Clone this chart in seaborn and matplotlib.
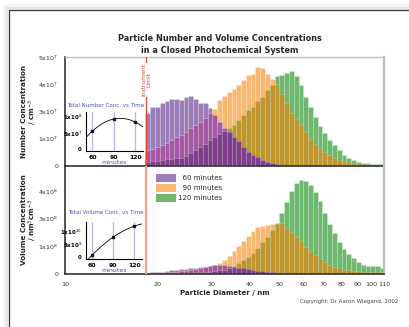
import numpy as np
import matplotlib
matplotlib.use("Agg")
import matplotlib.pyplot as plt
from matplotlib.patches import Patch
from matplotlib.lines import Line2D
from matplotlib.ticker import FixedLocator, FixedFormatter, NullFormatter
import seaborn as sns

# ---------------------------------------------------------------------------
# Size channels: 64 channels per decade, starting at 18.3 nm
first_edge_nm = 18.3
channels_per_decade = 64
n_channels = 50
log_edges = np.log10(first_edge_nm) + np.arange(n_channels + 1) / channels_per_decade
diameter_nm = 10 ** ((log_edges[:-1] + log_edges[1:]) / 2)

times = ["60 minutes", "90 minutes", "120 minutes"]

# Number concentration per channel (axis tick units, x10^7 cm^-3)
number_60 = [1.94, 2.16, 2.18, 2.30, 2.40, 2.45, 2.45, 2.43, 2.52, 2.57, 2.45, 2.33, 2.30, 2.12,
             1.88, 1.63, 1.39, 1.26, 1.05, 0.90, 0.69, 0.53, 0.41, 0.32, 0.22, 0.16, 0.10, 0.07,
             0.05, 0.04, 0.035, 0.03, 0.027, 0.024, 0.021, 0.019, 0.017, 0.015, 0.013, 0.012,
             0.011, 0.01, 0.009, 0.008, 0.007, 0.006, 0.005, 0.005, 0.004, 0.004]
number_90 = [0.59, 0.61, 0.69, 0.77, 0.83, 0.96, 1.05, 1.14, 1.26, 1.39, 1.51, 1.63, 1.75, 1.94,
             2.08, 2.43, 2.57, 2.73, 2.82, 2.98, 3.16, 3.35, 3.38, 3.65, 3.59, 3.38, 3.20, 3.00,
             2.65, 2.30, 1.95, 1.72, 1.52, 1.25, 1.00, 0.80, 0.64, 0.50, 0.40, 0.30, 0.23,
             0.18, 0.14, 0.11, 0.09, 0.07, 0.06, 0.05, 0.04, 0.04]
number_120 = [0.16, 0.18, 0.20, 0.22, 0.24, 0.26, 0.28, 0.31, 0.36, 0.46, 0.57, 0.68, 0.81, 0.94,
              1.05, 1.18, 1.30, 1.39, 1.51, 1.69, 1.88, 2.06, 2.18, 2.37, 2.55, 2.79, 2.98,
              3.31, 3.35, 3.41, 3.47, 3.30, 2.98, 2.55, 2.18, 1.81, 1.45, 1.20, 0.96, 0.77,
              0.59, 0.40, 0.28, 0.22, 0.16, 0.12, 0.10, 0.09, 0.08, 0.06]

# Volume concentration per channel (axis tick units, x10^8 nm^3 cm^-3)
volume_60 = [0.05, 0.06, 0.08, 0.09, 0.11, 0.13, 0.15, 0.17, 0.19, 0.21, 0.23, 0.25, 0.27, 0.29, 0.31,
             0.32, 0.31, 0.29, 0.26, 0.23, 0.20, 0.17, 0.14, 0.12, 0.10, 0.08, 0.06, 0.05, 0.04, 0.03,
             0.025, 0.02, 0.02, 0.018, 0.016, 0.015, 0.014, 0.013, 0.012, 0.011, 0.01, 0.01, 0.009,
             0.009, 0.008, 0.008, 0.007, 0.007, 0.006, 0.006]
volume_90 = [0.02, 0.03, 0.04, 0.05, 0.06, 0.07, 0.08, 0.10, 0.12, 0.14, 0.17, 0.20, 0.24, 0.28, 0.33,
             0.40, 0.50, 0.66, 0.83, 1.00, 1.20, 1.38, 1.56, 1.70, 1.75, 1.78, 1.80, 1.82, 1.84,
             1.65, 1.52, 1.32, 1.18, 0.97, 0.82, 0.67, 0.53, 0.42, 0.33, 0.26, 0.20, 0.16, 0.13,
             0.11, 0.10, 0.09, 0.08, 0.08, 0.07, 0.07]
volume_120 = [0.01, 0.01, 0.01, 0.02, 0.02, 0.02, 0.03, 0.03, 0.04, 0.05, 0.06, 0.07, 0.08, 0.09, 0.11,
              0.13, 0.16, 0.20, 0.30, 0.40, 0.50, 0.62, 0.76, 0.95, 1.15, 1.35, 1.58, 1.85,
              2.20, 2.60, 3.00, 3.30, 3.40, 3.36, 3.20, 2.95, 2.62, 2.20, 1.82,
              1.48, 1.17, 0.90, 0.72, 0.56, 0.45, 0.33, 0.28, 0.30, 0.30, 0.22]

# Totals for the inset time series
sample_minutes = [60, 90, 120]
total_number = [0.55e8, 0.91e8, 0.82e8]
total_volume = [0.08e10, 0.77e10, 1.19e10]

# Axis ticks and their labels
number_ticks = [0, 1, 2, 3, 4]
number_tick_labels = ["0", "1x10$^7$", "3x10$^7$", "4x10$^7$", "5x10$^7$"]
volume_ticks = [0, 1, 2, 3]
volume_tick_labels = ["0", "1x10$^8$", "3x10$^8$", "4x10$^8$"]
diameter_major = [10, 20, 30, 40, 50, 60, 70, 80, 90, 100, 110]
diameter_minor = [15, 25, 35, 45, 55, 65, 75, 85, 95, 105]
instrument_limit_nm = 18.4

# ---------------------------------------------------------------------------
sns.set_style("white")
plt.rcParams["font.family"] = ["DejaVu Sans"]

# Fill colours: each series alone, and where the series overlap
c_60 = "#9b7db9"
c_90 = "#f9b872"
c_120 = "#6fb86f"
c_60_90 = "#a35aa6"
c_90_120 = "#bf962e"
c_all = "#7f3f8c"
dark = "#333333"
axis_grey = "#bdbdbd"

W, H = 409, 327
fig = plt.figure(figsize=(W / 100, H / 100), dpi=100)


def fig_rect(left, top, right, bottom):
    return [left / W, 1 - bottom / H, (right - left) / W, (bottom - top) / H]


ax_num = fig.add_axes(fig_rect(65, 57, 384, 166))
ax_vol = fig.add_axes(fig_rect(65, 166, 384, 274))
bin_edges = [float(e) for e in log_edges]


def bars(ax, heights, color):
    sns.histplot(x=diameter_nm, weights=heights, bins=bin_edges, log_scale=True,
                 stat="count", element="bars", fill=True, color=color, alpha=1,
                 edgecolor=(1, 1, 1, 0.3), linewidth=0.4, ax=ax)


for ax, (s60, s90, s120) in ((ax_num, (number_60, number_90, number_120)),
                             (ax_vol, (volume_60, volume_90, volume_120))):
    a, b, c = np.asarray(s60), np.asarray(s90), np.asarray(s120)
    # each distribution on its own ...
    bars(ax, a, c_60)
    bars(ax, b, c_90)
    bars(ax, c, c_120)
    # ... then the shared parts, shaded by which runs overlap
    bars(ax, np.minimum(a, b), c_60_90)
    bars(ax, np.minimum(b, c), c_90_120)
    bars(ax, np.minimum(a, c), c_all)
    bars(ax, np.minimum(np.minimum(a, b), c), c_all)

    ax.set_xscale("log")
    ax.set_xlim(10, 110)
    ax.xaxis.set_major_locator(FixedLocator(diameter_major))
    ax.xaxis.set_minor_locator(FixedLocator(diameter_minor))
    ax.xaxis.set_minor_formatter(NullFormatter())
    ax.tick_params(axis="x", which="both", direction="out", length=3, width=0.8,
                   colors=dark, labelsize=4.6, pad=3)
    ax.tick_params(axis="y", direction="out", length=3, width=0.8, colors=dark,
                   labelsize=4.5, pad=2)
    ax.set_ylabel("")
    ax.set_xlabel("")
    ax.spines["left"].set_color(dark)
    ax.spines["left"].set_linewidth(1.2)
    ax.spines["bottom"].set_color(dark)
    ax.spines["bottom"].set_linewidth(1.2)
    ax.spines["right"].set_color(axis_grey)
    ax.spines["right"].set_linewidth(1.6)
    ax.patch.set_alpha(0)

ax_num.set_ylim(0, 4.0)
ax_num.set_yticks(number_ticks)
ax_num.set_yticklabels(number_tick_labels)
ax_num.tick_params(axis="x", labelbottom=False)
ax_num.spines["top"].set_color(axis_grey)
ax_num.spines["top"].set_linewidth(1.0)

ax_vol.set_ylim(0, 3.9)
ax_vol.set_yticks(volume_ticks)
ax_vol.set_yticklabels(volume_tick_labels)
ax_vol.xaxis.set_major_formatter(FixedFormatter([str(v) for v in diameter_major]))
ax_vol.spines["top"].set_visible(False)

ax_num.set_ylabel("Number Concentration\n/ cm$^{-3}$", fontsize=5.2, fontweight="bold",
                  linespacing=0.95)
ax_num.yaxis.set_label_coords(-0.082, 0.5)
ax_vol.set_ylabel("Volume Concentration\n/ nm$^3$cm$^{-3}$", fontsize=5.2, fontweight="bold",
                  linespacing=0.95)
ax_vol.yaxis.set_label_coords(-0.082, 0.5)
ax_vol.set_xlabel("Particle Diameter / nm", fontsize=5.0, fontweight="bold")
ax_vol.xaxis.set_label_coords(0.5, -0.145)

# Instrument detection limit
ax_num.axvline(instrument_limit_nm, color="#e8412c", lw=0.8, zorder=5)
ax_vol.axvline(instrument_limit_nm, color="#f4a08c", lw=1.6, zorder=5)
ax_num.text(instrument_limit_nm, 3.16, "Instrument\nLimit", rotation=90, ha="center",
            va="center", color="#e8412c", fontsize=4.3, linespacing=1.0, zorder=6,
            bbox=dict(facecolor="white", edgecolor="none", pad=0.3))

# Legend
handles = [Patch(facecolor=c, edgecolor="none") for c in (c_60, c_90, c_120)]
labels = ["  60 minutes", "  90 minutes", "120 minutes"]
ax_vol.legend(handles, labels, loc="upper left", bbox_to_anchor=(0.275, 0.95),
              frameon=False, fontsize=5.0, handlelength=2.9, handleheight=1.35,
              handletextpad=0.35, labelspacing=0.3, borderaxespad=0)

# Insets: totals versus time
inset_blue = "#4a4fb5"
grid_blue = "#b4b8e6"


def draw_inset(rect, totals, ylim, yticks, yticklabels, title, title_y):
    ins = fig.add_axes(rect)
    ins.patch.set_alpha(0)
    ins.set_xlim(51, 131)
    ins.set_ylim(*ylim)
    for m in sample_minutes:
        ins.axvline(m, color=grid_blue, lw=0.9, zorder=0)
    sns.regplot(x=sample_minutes, y=totals, order=2, ci=None, truncate=False, marker="s",
                scatter_kws=dict(s=3, color="black", zorder=3),
                line_kws=dict(color="black", lw=0.6), ax=ins)
    ins.set_xlim(51, 131)
    ins.set_ylim(*ylim)
    ins.set_xticks(sample_minutes)
    ins.set_xticklabels([str(m) for m in sample_minutes], fontsize=4.4, fontweight="bold")
    ins.set_yticks(yticks)
    ins.set_yticklabels(yticklabels, fontsize=4.0, fontweight="bold")
    ins.tick_params(length=2, width=0.6, pad=1, colors="black")
    ins.set_xlabel("minutes", fontsize=4.5, color=inset_blue, labelpad=0)
    ins.set_ylabel("")
    for side in ("top", "right"):
        ins.spines[side].set_visible(False)
    for side in ("left", "bottom"):
        ins.spines[side].set_color("black")
        ins.spines[side].set_linewidth(0.8)
    fig.text(106 / W, 1 - title_y / H, title, ha="center", va="center", fontsize=4.0,
             color=inset_blue)
    return ins


draw_inset(fig_rect(86, 112, 143, 151), total_number, (-0.045e8, 1.12e8),
           [0, 0.5e8, 1e8], ["0", "5x10$^7$", "1x10$^8$"], "Total Number Conc. vs Time", 105)
draw_inset(fig_rect(86, 222, 142, 259), total_volume, (-0.077e10, 1.35e10),
           [0, 0.5e10, 1e10], ["0", "5x10$^9$", "1x10$^{10}$"], "Total Volume Conc. vs Time", 213)

# Titles and credits
fig.text(219.5 / W, 1 - 44.5 / H,
         "Particle Number and Volume Concentrations\nin a Closed Photochemical System",
         ha="center", va="center", fontsize=5.9, fontweight="bold", linespacing=1.5)
fig.text(398 / W, 1 - 302 / H, "Copyright: Dr Aaron Wiegand, 2002", ha="right", va="center",
         fontsize=4.0, color="#444444")

# Page frame with a soft shadow
for off, col, lw in ((3.0, "#f3f3f3", 4.0), (1.4, "#e4e4e4", 1.6)):
    fig.add_artist(Line2D([(8.5 - off) / W, (8.5 - off) / W], [1 - (9.5 - off) / H, -0.05],
                          color=col, lw=lw, transform=fig.transFigure))
    fig.add_artist(Line2D([(8.5 - off) / W, 1.05], [1 - (9.5 - off) / H, 1 - (9.5 - off) / H],
                          color=col, lw=lw, transform=fig.transFigure))
fig.add_artist(Line2D([8.5 / W, 8.5 / W], [1 - 9.5 / H, -0.05], color="#3a3a3a", lw=0.9,
                      transform=fig.transFigure))
fig.add_artist(Line2D([8.5 / W, 1.05], [1 - 9.5 / H, 1 - 9.5 / H], color="#3a3a3a", lw=0.9,
                      transform=fig.transFigure))

fig.savefig("out.png", dpi=100)
